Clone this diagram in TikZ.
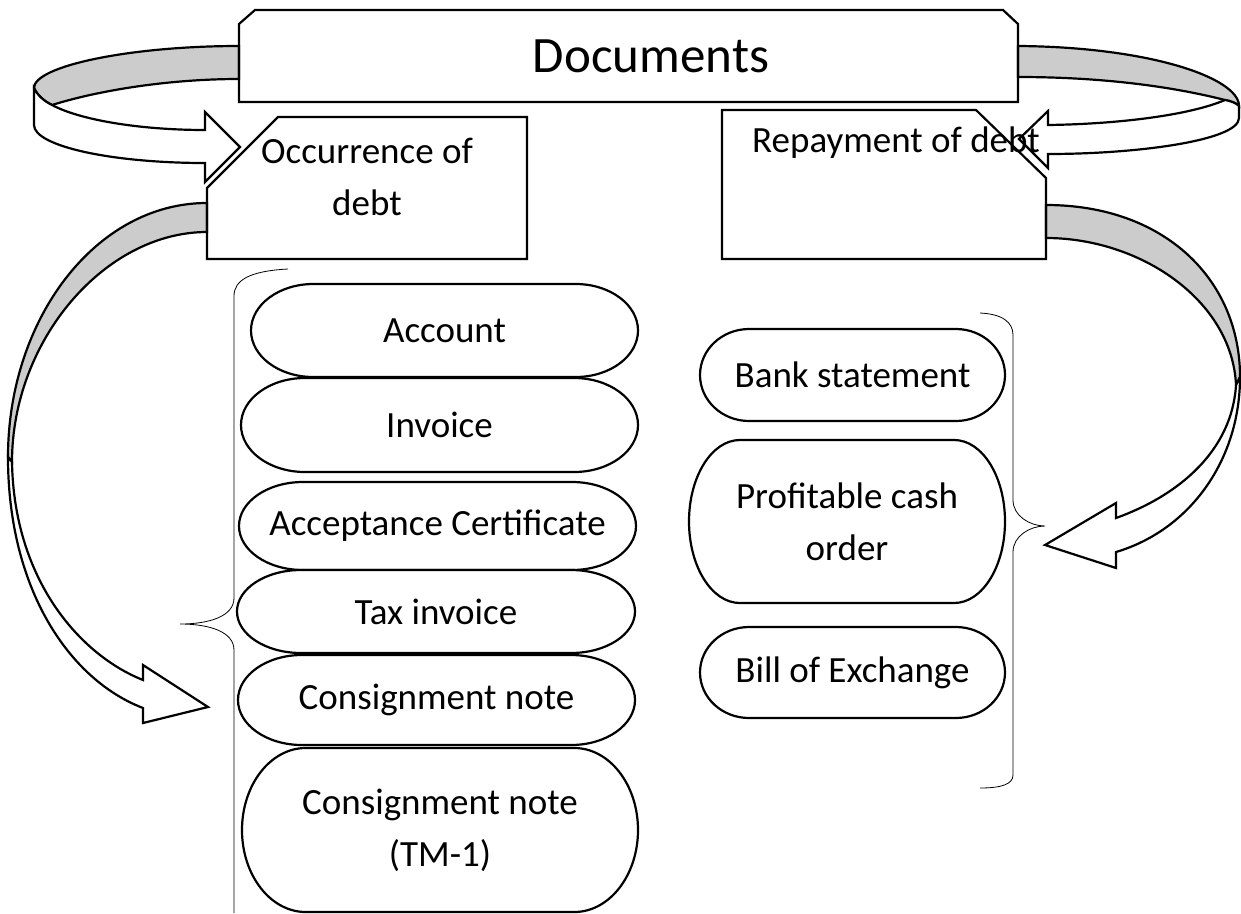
\documentclass[tikz,border=0pt]{standalone}
\usepackage{fontspec}
\setmainfont{Carlito}

\def\lw{2.2pt}
\def\endfrac{0.161}

\tikzset{
  box/.style={draw=black, line width=\lw, line join=miter},
  band/.style={draw=black, line width=\lw, fill=white, line join=miter},
  backband/.style={band, fill=black!20},
  pill/.style={draw=black, line width=\lw, fill=white},
  brace/.style={draw=black, line width=0.8pt},
  txt/.style={font=\fontsize{37}{52}\selectfont, align=center, inner sep=0pt},
  title/.style={font=\fontsize{51}{60}\selectfont, inner sep=0pt},
}

\begin{document}
\begin{tikzpicture}[x=1pt, y=-1pt]
  \useasboundingbox (0,0) rectangle (1241,913);

  % curved arrow, top left
  \draw[backband] (239,46) .. controls (130,46) and (34,66) .. (34,88)
    .. controls (38,96) and (44,101) .. (52,105)
    .. controls (100,90) and (170,79) .. (239,79) -- cycle;
  \draw[band] (34,88) -- (34,125) .. controls (34,146) and (111,163) .. (205,163)
    -- (205,182) -- (240,147) -- (205,112) -- (205,130)
    .. controls (140,130) and (80,120) .. (52,105)
    .. controls (44,101) and (38,96) .. (34,88) -- cycle;

  % curved arrow, top right
  \draw[backband] (1018,46) .. controls (1150,47) and (1239,78) .. (1239,106)
    .. controls (1236,103) and (1231,101) .. (1225,100)
    .. controls (1170,86) and (1100,77) .. (1018,77) -- cycle;
  \draw[band] (1239,106) -- (1239,118) .. controls (1239,140) and (1140,154) .. (1048,154)
    -- (1048,168) -- (1019,139) -- (1048,111) -- (1048,125)
    .. controls (1120,124) and (1190,115) .. (1225,100)
    .. controls (1231,101) and (1236,103) .. (1239,106) -- cycle;

  % curved arrow, bottom left
  \draw[backband] (207,203) .. controls (95,203) and (8,320) .. (8,457)
    -- (12,462) .. controls (12,340) and (105,232) .. (207,232) -- cycle;
  \draw[band] (8,457) .. controls (8,590) and (70,680) .. (143,708)
    -- (143,723) -- (208,707) -- (143,665) -- (143,680)
    .. controls (80,655) and (14,580) .. (12,462) -- cycle;

  % curved arrow, bottom right
  \draw[backband] (1046,205) .. controls (1165,205) and (1240,280) .. (1240,377)
    -- (1236,385) .. controls (1232,300) and (1140,238) .. (1046,238) -- cycle;
  \draw[band] (1240,377) .. controls (1240,460) and (1190,530) .. (1116,552)
    -- (1116,568) -- (1045,545) -- (1116,503) -- (1116,518)
    .. controls (1180,495) and (1232,450) .. (1236,385) -- cycle;

  % header boxes
  \draw[box] (255,10) -- (1003,10) -- (1018,24) -- (1018,102) -- (239,102) -- (239,24) -- cycle;
  \node[title] (docs) at (651,56) {Documents};
  \draw[box] (278,117) -- (527,117) -- (527,259) -- (207,259) -- (207,188) -- cycle;
  \node[txt] (occ) at (367,177) {Occurrence of\\debt};
  \draw[box] (722,110) -- (976,110) -- (1046,178) -- (1046,259) -- (722,259) -- cycle;
  \node[txt] (rep) at (896,143) {Repayment of debt};

  % braces
  \draw[brace] (288,269) .. controls (250,271) and (234,280) .. (234,296) -- (234,598)
    .. controls (234,616) and (210,624) .. (180,624)
    .. controls (210,624) and (234,632) .. (234,650) -- (234,913);
  \draw[brace] (980,313) .. controls (1002,314) and (1013,322) .. (1013,335) -- (1013,500)
    .. controls (1013,516) and (1030,526) .. (1045,526)
    .. controls (1030,526) and (1013,536) .. (1013,552) -- (1013,775)
    .. controls (1013,784) and (1002,788) .. (980,788);

  % document pills
  \foreach \name/\cx/\cy/\w/\h/\label in {
      acc/444.5/330.5/387/93/Account,
      inv/439.5/425/397/94/Invoice,
      acpt/437.5/526/397/88/Acceptance Certificate,
      tax/436/611.5/398/83/Tax invoice,
      cons/436.5/700/397/90/Consignment note,
      tmone/440/830/396/164/{Consignment note\\(TM-1)},
      bank/852.5/375/305/92/Bank statement,
      cash/847/521.5/316/163/{Profitable cash\\order},
      bill/852.5/672.5/305/91/Bill of Exchange%
    } {
      \pgfmathsetmacro\rx{\endfrac*\w}              % width of the round ends
      \draw[pill] (\cx-\w/2+\rx,\cy-\h/2) -- (\cx+\w/2-\rx,\cy-\h/2)
        arc[start angle=-90, end angle=90, x radius=\rx, y radius=\h/2]
        -- (\cx-\w/2+\rx,\cy+\h/2)
        arc[start angle=90, end angle=270, x radius=\rx, y radius=\h/2] -- cycle;
      \node[txt] (\name) at (\cx,\cy) {\label};
    };
\end{tikzpicture}
\end{document}
